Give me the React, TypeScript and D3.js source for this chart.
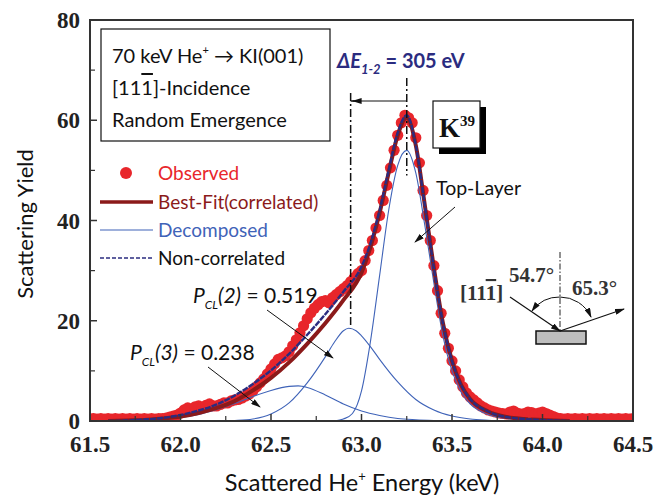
import React from "react";
import * as d3 from "d3";

// ---------- data ----------
const xTicks = [61.5, 62.0, 62.5, 63.0, 63.5, 64.0, 64.5];
const yTicks = [0, 20, 40, 60, 80];

const obsStart = 61.5;
const obsStep = 0.02;
const observed = [
  0.4, 0.5, 0.4, 0.5, 0.4, 0.5, 0.4, 0.5, 0.4, 0.5, 0.4, 0.5, 0.4, 0.5, 0.4, 0.5, 0.4, 0.5, 0.4, 0.5, 0.5, 0.6, 0.8, 1.0, 1.2,
  1.6, 2.2, 2.6, 2.3, 2.8, 3.0, 2.7, 3.1, 3.4, 3.0, 3.0, 3.3, 3.6, 3.6, 4.0, 4.2, 4.3, 4.6, 5.0, 5.4, 6.0, 6.8, 7.6, 8.4, 9.4,
  10.4, 11.4, 12.3, 12.6, 13.0, 13.8, 15.0, 16.2, 17.6, 19.0, 20.4, 21.6, 22.5, 23.2, 23.8, 24.0, 23.6, 24.6, 25.2, 25.8, 26.4, 27.0, 27.8, 28.6, 29.4,
  30, 32, 34, 36, 38.5, 41, 44, 47, 50.5, 54, 57, 59.5, 61, 60.5, 59.5, 56.5, 51.5, 46, 41, 36, 31, 26, 21.5, 17.5, 14.5,
  12, 10, 8.2, 6.8, 5.6, 4.8, 4.2, 3.6, 3.0, 2.6, 2.2, 2.0, 1.8, 1.6, 1.5, 1.4, 1.8, 2.0, 1.6, 1.4, 1.5, 1.8, 1.7, 1.4, 1.6,
  1.8, 1.5, 1.2, 0.9, 0.6, 0.5, 0.4, 0.5, 0.4, 0.5, 0.4, 0.5, 0.4, 0.5, 0.4, 0.5, 0.4, 0.5, 0.4, 0.5, 0.4, 0.5, 0.4, 0.5, 0.4, 0.5,
];

const totalX = [61.6, 61.7, 61.8, 61.9, 62.0, 62.1, 62.2, 62.3, 62.4, 62.5, 62.6, 62.7, 62.8, 62.9, 63.0, 63.05, 63.1, 63.15, 63.2, 63.25, 63.3, 63.35, 63.4, 63.45, 63.5, 63.55, 63.6, 63.7, 63.8, 63.9, 64.0, 64.15];
const nonCorrY = [0, 0.1, 0.3, 0.6, 1.2, 2.1, 3.3, 5.1, 7.4, 10.1, 13.4, 17.2, 21.3, 25.8, 30.8, 35.5, 42, 50, 57.5, 61, 55, 43, 30.5, 19.5, 12, 7.2, 4.4, 1.9, 0.8, 0.4, 0.2, 0];
const bestFitY = [0, 0.1, 0.2, 0.5, 0.9, 1.6, 2.6, 4.0, 6.1, 8.6, 11.7, 15.4, 19.5, 24.1, 29.6, 34.8, 41.5, 49.5, 57, 60.5, 55, 43, 30.5, 19.5, 12, 7.2, 4.4, 1.9, 0.8, 0.4, 0.2, 0];

const comp1X = [62.85, 62.9, 62.95, 63.0, 63.05, 63.1, 63.15, 63.2, 63.25, 63.3, 63.35, 63.4, 63.45, 63.5, 63.55, 63.6, 63.7, 63.8, 63.9, 64.0, 64.1];
const comp1Y = [0, 0.4, 1.5, 6, 16, 29, 42, 51, 54, 49.5, 39, 27.5, 17, 10, 5.8, 3.4, 1.3, 0.5, 0.2, 0.1, 0];
const comp2X = [62.2, 62.3, 62.4, 62.5, 62.6, 62.7, 62.8, 62.85, 62.9, 62.93, 62.97, 63.0, 63.05, 63.1, 63.2, 63.3, 63.4, 63.5, 63.6, 63.7, 63.8];
const comp2Y = [0, 0.1, 0.4, 1.4, 3.6, 7.6, 12.8, 15.7, 18, 18.5, 18, 17, 14.8, 12.3, 7.8, 4.3, 2.2, 1.0, 0.4, 0.15, 0];
const comp3X = [61.7, 61.8, 61.9, 62.0, 62.1, 62.2, 62.3, 62.4, 62.5, 62.6, 62.65, 62.7, 62.8, 62.9, 63.0, 63.1, 63.2, 63.3, 63.4, 63.5];
const comp3Y = [0, 0.1, 0.3, 0.7, 1.3, 2.3, 3.5, 4.9, 6.1, 6.9, 7.0, 6.7, 5.2, 3.4, 2.0, 1.1, 0.5, 0.25, 0.1, 0];

const peak1 = 63.25;
const peak2 = 62.94;

// ---------- styles ----------
const RED = "#E8262B";
const DARKRED = "#8B1A1A";
const NAVY = "#2B2C80";
const BLUE = "#3F63B8";
const SANS = "Lato, 'Open Sans', sans-serif";
const SERIF = "'Liberation Serif', 'Times New Roman', serif";

export default function App() {
  const W = 668, H = 498;
  const x = d3.scaleLinear().domain([61.5, 64.5]).range([90, 633]);
  const y = d3.scaleLinear().domain([0, 80]).range([421, 20]);

  const mkLine = (xs: number[], ys: number[]) =>
    d3.line<number>().x((_, i) => x(xs[i])).y((v) => y(v)).curve(d3.curveMonotoneX)(ys) || "";

  const xMinor = d3.range(61.75, 64.5, 0.5);
  const yMinor = d3.range(10, 80, 20);

  return (
    <svg width={W} height={H} style={{ position: "absolute", left: 0, top: 0, background: "#fff" }}>
      <defs>
        <marker id="ah" viewBox="0 0 10 6" refX="9" refY="3" markerWidth="10" markerHeight="6" orient="auto" markerUnits="userSpaceOnUse">
          <path d="M0,0 L10,3 L0,6 z" fill="#111" />
        </marker>
        <clipPath id="plot">
          <rect x={90} y={20} width={543} height={401} />
        </clipPath>
      </defs>

      {/* observed points */}
      <g clipPath="url(#plot)">
        {observed.map((v, i) => (
          <circle key={i} cx={x(obsStart + i * obsStep)} cy={y(v)} r={5.6} fill={RED} />
        ))}
        {/* decomposed */}
        <path d={mkLine(comp1X, comp1Y)} fill="none" stroke={BLUE} strokeWidth={1.1} />
        <path d={mkLine(comp2X, comp2Y)} fill="none" stroke={BLUE} strokeWidth={1.1} />
        <path d={mkLine(comp3X, comp3Y)} fill="none" stroke={BLUE} strokeWidth={1.1} />
        {/* best fit */}
        <path d={mkLine(totalX, bestFitY)} fill="none" stroke={DARKRED} strokeWidth={4} />
        {/* non-correlated */}
        <path d={mkLine(totalX, nonCorrY)} fill="none" stroke={NAVY} strokeWidth={2.4} strokeDasharray="6,1" />
      </g>

      {/* dash-dot marker lines */}
      <line x1={x(peak1)} x2={x(peak1)} y1={78} y2={y(49)} stroke="#111" strokeWidth={1.5} strokeDasharray="8,3,2,3" />
      <line x1={x(peak2)} x2={x(peak2)} y1={93} y2={y(18.5)} stroke="#111" strokeWidth={1.5} strokeDasharray="8,3,2,3" />
      <line x1={x(peak1)} x2={x(peak2) + 2} y1={101} y2={101} stroke="#111" strokeWidth={1} markerEnd="url(#ah)" />
      <line x1={x(peak2)} x2={x(peak2) + 4} y1={101} y2={101} stroke="#111" strokeWidth={1.5} />

      {/* ΔE label */}
      <text x={337} y={68} fill={NAVY} fontFamily={SANS} fontWeight="bold" fontSize={20}>
        <tspan fontStyle="italic">ΔE</tspan>
        <tspan fontStyle="italic" fontSize={13} dy={6}>1-2</tspan>
        <tspan dy={-6}> = 305 eV</tspan>
      </text>

      {/* K39 box */}
      <rect x={439} y={107} width={47} height={47} fill="#000" />
      <rect x={433} y={101} width={47} height={47} fill="#fff" stroke="#111" strokeWidth={1.2} />
      <text x={439} y={137} fontFamily={SERIF} fontWeight="bold" fontSize={27} fill="#111">
        K<tspan fontSize={15} dy={-11}>39</tspan>
      </text>

      {/* Top-Layer */}
      <text x={436} y={195} fontFamily={SANS} fontSize={19.5} fill="#111">Top-Layer</text>
      <line x1={455} y1={207} x2={415} y2={242} stroke="#111" strokeWidth={1} markerEnd="url(#ah)" />

      {/* P_CL labels */}
      <text x={193} y={303} fontFamily={SANS} fontSize={21} fill="#111">
        <tspan fontStyle="italic">P</tspan>
        <tspan fontStyle="italic" fontSize={12} dy={6}>CL</tspan>
        <tspan fontStyle="italic" dy={-6}>(2)</tspan>
        <tspan> = 0.519</tspan>
      </text>
      <line x1={267} y1={310} x2={333} y2={358} stroke="#111" strokeWidth={1} markerEnd="url(#ah)" />
      <text x={130} y={360} fontFamily={SANS} fontSize={21} fill="#111">
        <tspan fontStyle="italic">P</tspan>
        <tspan fontStyle="italic" fontSize={12} dy={6}>CL</tspan>
        <tspan fontStyle="italic" dy={-6}>(3)</tspan>
        <tspan> = 0.238</tspan>
      </text>
      <line x1={208} y1={367} x2={260} y2={407} stroke="#111" strokeWidth={1} markerEnd="url(#ah)" />

      {/* Inset geometry */}
      <line x1={560} y1={252} x2={560} y2={331} stroke="#222" strokeWidth={1} strokeDasharray="6,2,1.5,2" />
      <rect x={536} y={331} width={50} height={13} fill="#BEBEBE" stroke="#111" strokeWidth={1.5} />
      <line x1={510} y1={297} x2={560} y2={331} stroke="#111" strokeWidth={1.2} markerEnd="url(#ah)" />
      <line x1={560} y1={331} x2={624} y2={309} stroke="#111" strokeWidth={1.2} markerEnd="url(#ah)" />
      <path d="M560,297 A34,34 0 0 0 532,311" fill="none" stroke="#111" strokeWidth={1} markerEnd="url(#ah)" />
      <path d="M560,297 A34,34 0 0 1 591,317" fill="none" stroke="#111" strokeWidth={1} markerEnd="url(#ah)" />
      <text x={509} y={282} fontFamily={SERIF} fontWeight="bold" fontSize={21} fill="#333">54.7°</text>
      <text x={572} y={295} fontFamily={SERIF} fontWeight="bold" fontSize={21} fill="#333">65.3°</text>
      <text x={460} y={300} fontFamily={SERIF} fontWeight="bold" fontSize={21} fill="#333">
        [11<tspan style={{ textDecoration: "overline" }}>1</tspan>]
      </text>

      {/* info box */}
      <rect x={101} y={29} width={229} height={112} fill="#fff" stroke="#111" strokeWidth={1.2} />
      <text x={112} y={63} fontFamily={SANS} fontSize={20} fill="#111">
        70 keV He<tspan fontSize={11} dy={-9}>+</tspan><tspan dy={9}> → KI(001)</tspan>
      </text>
      <text x={112} y={95} fontFamily={SANS} fontSize={20} fill="#111">
        [11<tspan style={{ textDecoration: "overline" }}>1</tspan>]-Incidence
      </text>
      <text x={112} y={127} fontFamily={SANS} fontSize={20} fill="#111">Random Emergence</text>

      {/* legend */}
      <circle cx={126} cy={173} r={6} fill={RED} />
      <text x={158} y={180} fontFamily={SANS} fontSize={19} fill={RED}>Observed</text>
      <line x1={100} x2={153} y1={202} y2={202} stroke={DARKRED} strokeWidth={3.5} />
      <text x={158} y={209} fontFamily={SANS} fontSize={19} fill={DARKRED}>Best-Fit(correlated)</text>
      <line x1={100} x2={153} y1={230} y2={230} stroke={BLUE} strokeWidth={1.2} />
      <text x={158} y={237} fontFamily={SANS} fontSize={19} fill={BLUE}>Decomposed</text>
      <line x1={100} x2={153} y1={258} y2={258} stroke={NAVY} strokeWidth={1.5} strokeDasharray="4,2" />
      <text x={158} y={265} fontFamily={SANS} fontSize={19} fill="#111">Non-correlated</text>

      {/* axes frame */}
      <rect x={90} y={20} width={543} height={401} fill="none" stroke="#333" strokeWidth={2} />
      {xTicks.map((t) => (
        <g key={"xt" + t}>
          <line x1={x(t)} x2={x(t)} y1={421} y2={414} stroke="#333" strokeWidth={1.5} />
          <text x={x(t)} y={452} textAnchor="middle" fontFamily={SERIF} fontWeight="bold" fontSize={23} fill="#222">
            {t.toFixed(1)}
          </text>
        </g>
      ))}
      {xMinor.map((t) => (
        <line key={"xm" + t} x1={x(t)} x2={x(t)} y1={421} y2={416} stroke="#333" strokeWidth={1.2} />
      ))}
      {yTicks.map((t) => (
        <g key={"yt" + t}>
          <line x1={90} x2={97} y1={y(t)} y2={y(t)} stroke="#333" strokeWidth={1.5} />
          <text x={80} y={y(t) + 8} textAnchor="end" fontFamily={SERIF} fontWeight="bold" fontSize={23} fill="#222">
            {t}
          </text>
        </g>
      ))}
      {yMinor.map((t) => (
        <line key={"ym" + t} x1={90} x2={95} y1={y(t)} y2={y(t)} stroke="#333" strokeWidth={1.2} />
      ))}

      {/* axis titles */}
      <text transform="translate(33,224) rotate(-90)" textAnchor="middle" fontFamily={SANS} fontSize={22} fill="#111">
        Scattering Yield
      </text>
      <text x={362} y={491} textAnchor="middle" fontFamily={SANS} fontSize={23.5} fill="#111">
        Scattered He<tspan fontSize={13} dy={-10}>+</tspan><tspan dy={10}> Energy (keV)</tspan>
      </text>
    </svg>
  );
}
